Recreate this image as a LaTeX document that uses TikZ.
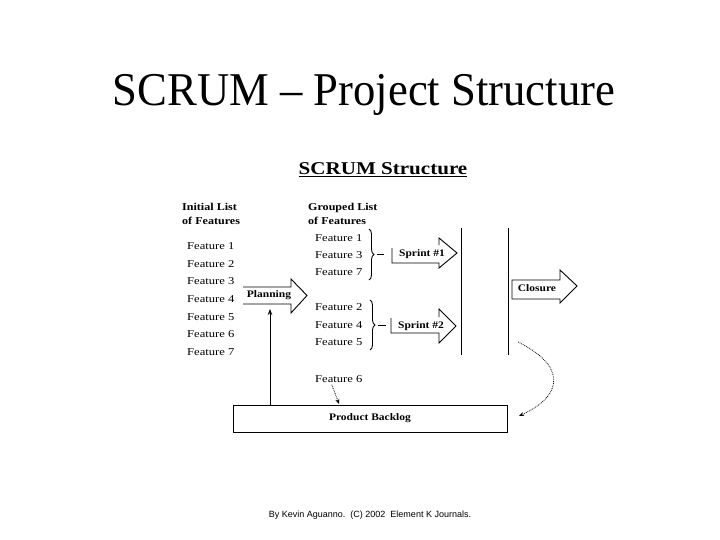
\documentclass[tikz,border=0pt]{standalone}
\usepackage{fontspec}
\setmainfont{Liberation Serif}
\newfontfamily\titlefont[FakeStretch=0.95]{Liberation Serif}
\newfontfamily\wfont[FakeStretch=1.2]{Liberation Serif}
\newfontfamily\bfont[FakeStretch=1.15]{Liberation Serif}
\newfontfamily\hfont[FakeStretch=1.17]{Liberation Serif}
\newfontfamily\footfont{Liberation Sans}
\usetikzlibrary{arrows.meta,decorations.pathreplacing}
\tikzset{
  feat/.style={anchor=west,inner sep=0pt,font=\wfont\fontsize{10.5}{12}\selectfont},
  head/.style={anchor=west,inner sep=0pt,align=left,font=\bfont\bfseries\fontsize{10.5}{13.5}\selectfont},
  lbl/.style={inner sep=0pt,font=\bfont\bfseries\fontsize{10}{12}\selectfont},
  ln/.style={line width=0.9pt},
  dotarrow/.style={line width=0.8pt,densely dotted,-{Stealth[length=5pt,width=4pt]}},
  brc/.style={line width=0.9pt,decorate,decoration={brace,amplitude=5pt}}
}
\begin{document}
\begin{tikzpicture}[x=1pt,y=-1pt]
\useasboundingbox (0,0) rectangle (720,540);
\fill[white] (0,0) rectangle (720,540);

% title
\node[inner sep=0pt,font=\titlefont\fontsize{47}{50}\selectfont] (title) at (364,95) {SCRUM – Project Structure};
\node[inner sep=0pt,font=\hfont\bfseries\fontsize{18}{20}\selectfont] (sub) at (383,170) {\underline{SCRUM Structure}};

% headers
\node[head] (h1) at (182,214) {Initial List\\of Features};
\node[head] (h2) at (308,214) {Grouped List\\of Features};

% initial list
\node[feat] (f1) at (187,246) {Feature 1};
\node[feat] (f2) at (187,263.7) {Feature 2};
\node[feat] (f3) at (187,281.3) {Feature 3};
\node[feat] (f4) at (187,299) {Feature 4};
\node[feat] (f5) at (187,316.7) {Feature 5};
\node[feat] (f6) at (187,334.3) {Feature 6};
\node[feat] (f7) at (187,352) {Feature 7};

% grouped list
\node[feat] (g1) at (315,238) {Feature 1};
\node[feat] (g3) at (315,255) {Feature 3};
\node[feat] (g7) at (315,272) {Feature 7};
\node[feat] (g2) at (315,307) {Feature 2};
\node[feat] (g4) at (315,325) {Feature 4};
\node[feat] (g5) at (315,342) {Feature 5};
\node[feat] (g6) at (315,379) {Feature 6};

% braces
\draw[brc] (369,229) -- (369,280);
\draw[ln] (377,254.5) -- (384,254.5);
\draw[brc] (370,300) -- (370,350);
\draw[ln] (378,325) -- (386,325);

% Planning arrow
\draw[ln,line join=miter] (243,287) -- (291,287) -- (291,279) -- (307,295.5) -- (291,313) -- (291,304) -- (243,304);
\node[lbl] (plan) at (269,295.5) {Planning};
\coordinate (planbot) at (270,309);

% Sprint #1 arrow
\draw[ln,line join=miter] (392,248) -- (392,263) -- (439,263) -- (439,268) -- (457,253) -- (439,238) -- (439,245);
\node[lbl] (s1) at (422,254.5) {Sprint \#1};

% Sprint #2 arrow
\draw[ln,line join=miter] (391,318) -- (391,333) -- (439,333) -- (439,343) -- (456,326) -- (439,309) -- (439,317);
\node[lbl] (s2) at (421,326) {Sprint \#2};

% vertical lines
\draw[ln] (461,228) -- (461,355);
\draw[ln] (508,228) -- (508,355);

% Closure arrow
\draw[ln,line join=miter] (512,299) -- (512,280) -- (560,280) -- (560,270) -- (577,286) -- (560,303) -- (560,299) -- cycle;
\node[lbl] (clo) at (537,288.5) {Closure};

% Product backlog
\node[draw,ln,minimum width=274pt,minimum height=27pt,inner sep=0pt,font=\bfont\bfseries\fontsize{10}{12}\selectfont] (backlog) at (370,418.5) {Product Backlog};

% connectors
\draw[ln,-{Stealth[length=6pt,width=4.5pt]}] (backlog.north -| planbot) -- (planbot);
\coordinate (f6end) at (339,404);
\draw[dotarrow] ([xshift=-7pt,yshift=-2pt]g6.south) -- (f6end);
\coordinate (cstart) at (518,342);
\coordinate (cend) at (519,416);
\draw[dotarrow] (cstart) .. controls (565,365) and (565,395) .. (cend);

% footer
\node[inner sep=0pt,font=\footfont\fontsize{9}{10}\selectfont] (foot) at (370,515) {By Kevin Aguanno.\ \ (C) 2002\ \ Element K Journals.};
\end{tikzpicture}
\end{document}
